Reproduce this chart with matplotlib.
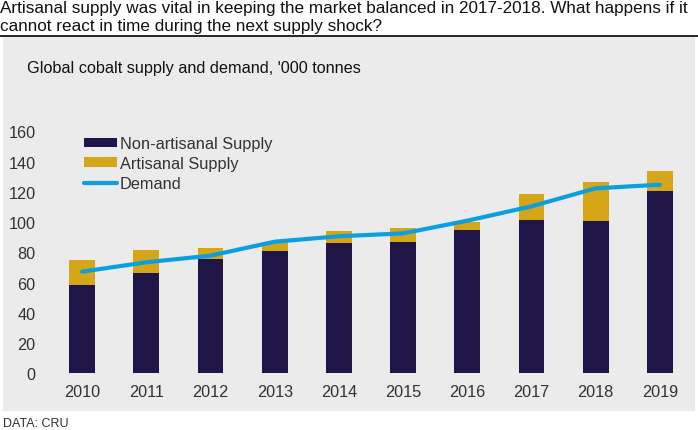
import matplotlib
matplotlib.use('Agg')
import matplotlib.pyplot as plt
from matplotlib.patches import Rectangle
from matplotlib.lines import Line2D
import numpy as np

plt.rcParams['font.family'] = ['Liberation Sans', 'DejaVu Sans']

years = ['2010', '2011', '2012', '2013', '2014', '2015', '2016', '2017', '2018', '2019']
non_artisanal = [58.4, 66.1, 75.4, 80.6, 86.0, 86.6, 94.5, 101.1, 100.7, 120.3]
artisanal = [16.5, 15.4, 7.2, 6.4, 8.3, 9.7, 5.7, 17.4, 26.0, 13.4]
demand = [67.2, 73.4, 77.8, 87.0, 90.6, 92.5, 100.9, 110.4, 122.3, 124.7]

navy = '#201547'
gold = '#D6A619'
blue = '#0A9FE0'
panel = '#EBEBEB'

W, H = 698, 431
fig = plt.figure(figsize=(W / 100, H / 100), dpi=100)
fig.patch.set_facecolor('white')

# grey panel behind the chart
fig.patches.append(Rectangle((3 / W, 1 - 412 / H), 692 / W, 374 / H,
                             transform=fig.transFigure, facecolor=panel,
                             edgecolor='none', zorder=-10))
# rule under the headline
fig.add_artist(Line2D([0, 1], [1 - 37 / H, 1 - 37 / H], color='black', lw=1.2))

fig.text(0 / W, 1 - 9 / H, 'Artisanal supply was vital in keeping the market balanced in 2017-2018. What happens if it',
         fontsize=12.3, va='center', ha='left', color='#111111')
fig.text(0 / W, 1 - 27 / H, 'cannot react in time during the next supply shock?',
         fontsize=12.3, va='center', ha='left', color='#111111')
fig.text(27 / W, 1 - 68 / H, "Global cobalt supply and demand, '000 tonnes",
         fontsize=11.7, va='center', ha='left', color='#111111')
fig.text(3 / W, 1 - 424 / H, 'DATA: CRU', fontsize=9, va='center', ha='left', color='#333333')

ax = fig.add_axes([50 / W, 1 - 374.3 / H, 642 / W, 242 / H])
ax.set_facecolor('none')
x = np.arange(len(years))
b1 = ax.bar(x, non_artisanal, width=0.4, color=navy, zorder=2)
b2 = ax.bar(x, artisanal, width=0.4, bottom=non_artisanal, color=gold, zorder=2)
ln, = ax.plot(x, demand, color=blue, lw=3, zorder=3, solid_capstyle='round')

ax.set_xlim(-0.5, len(years) - 0.5)
ax.set_ylim(0, 160)
ax.set_yticks(range(0, 161, 20))
ax.set_xticks(x)
ax.set_xticklabels(years)
ax.tick_params(length=0, labelsize=11.7, colors='#333333')
ax.tick_params(axis='y', pad=10.5)
ax.tick_params(axis='x', pad=8)
for s in ax.spines.values():
    s.set_visible(False)

leg = ax.legend([b1, b2, ln], ['Non-artisanal Supply', 'Artisanal Supply', 'Demand'],
                loc='upper left', bbox_to_anchor=(84 / W, 1 - 137 / H),
                bbox_transform=fig.transFigure, frameon=False, fontsize=11.8,
                handlelength=2.0, handleheight=0.5, handletextpad=0.2,
                labelspacing=0.3, borderaxespad=0, borderpad=0)
for t in leg.get_texts():
    t.set_color('#333333')

fig.savefig('out.png', dpi=100)
